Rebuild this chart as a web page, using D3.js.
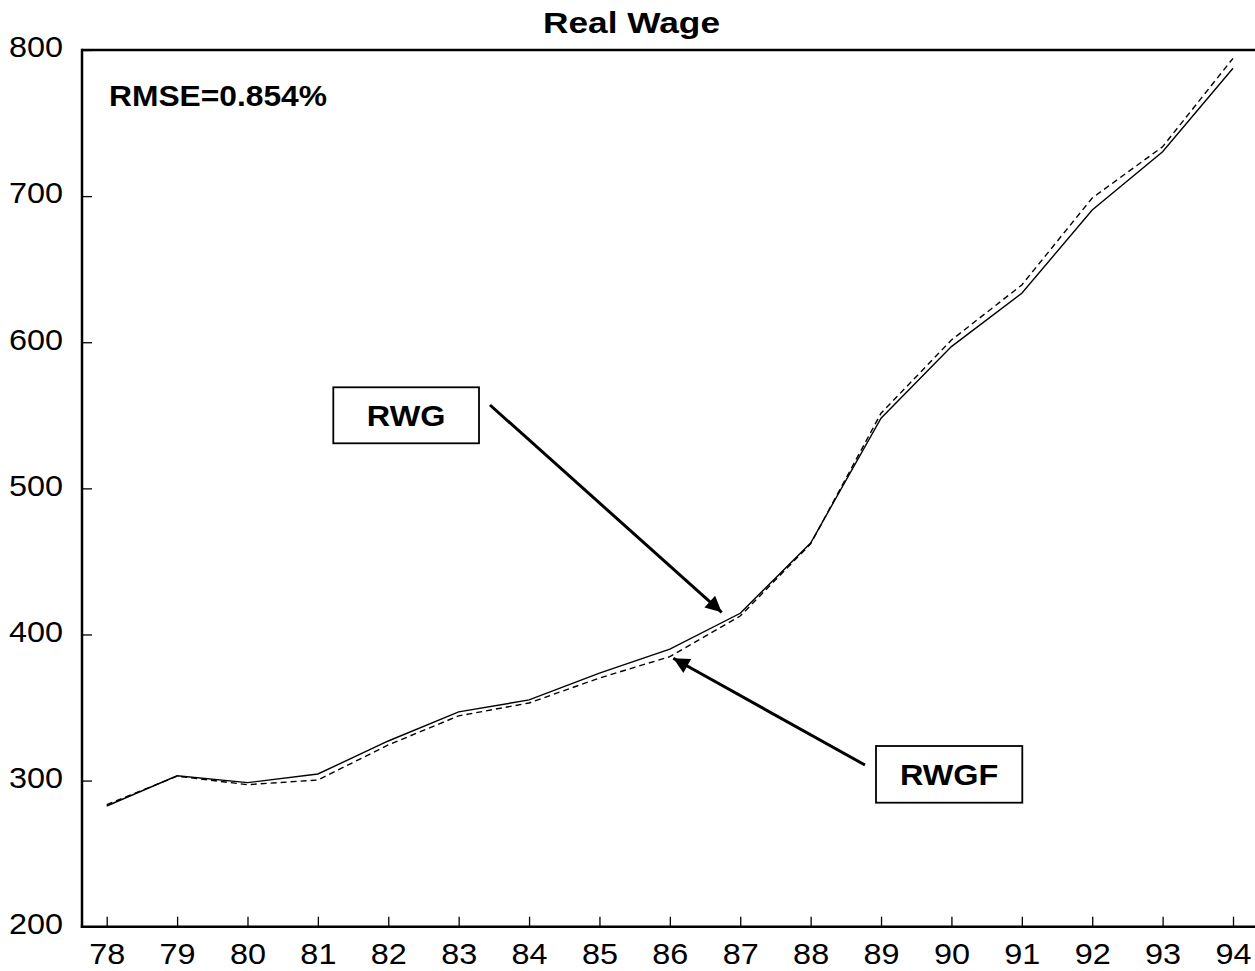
<!DOCTYPE html>
<html>
<head>
<meta charset="utf-8">
<script src="https://cdn.jsdelivr.net/npm/d3@7"></script>
<style>
  html, body { margin: 0; padding: 0; background: #fff; }
  svg { display: block; font-family: "Liberation Sans", Arial, sans-serif; }
</style>
</head>
<body>
<svg id="chart" width="1255" height="971"></svg>
<script>
// ---- data ----
const years = ["78","79","80","81","82","83","84","85","86","87","88","89","90","91","92","93","94"];
const rwg   = [282.6, 303.3, 298.6, 304.5, 327.1, 347.0, 355.2, 373.6, 389.9, 414.5, 462.6, 548.0, 597.0, 633.5, 690.5, 730.4, 787.5];
const rwgf  = [283.6, 303.0, 297.2, 300.4, 324.4, 344.3, 353.1, 370.2, 384.8, 412.6, 462.0, 551.4, 601.5, 639.2, 698.7, 733.8, 794.3];
const yTicks = [200, 300, 400, 500, 600, 700, 800];
const title = "Real Wage";
const rmseLabel = "RMSE=0.854%";
const seriesNames = ["RWG", "RWGF"];

// ---- layout ----
const plotLeft = 82, plotTop = 50, plotBottom = 926.7, plotRight = 1255;
const stretch = 1.08;

const svg = d3.select("#chart");

const x = d3.scalePoint().domain(years).range([106.7, 1233]);
const y = d3.scaleLinear().domain([200, 800]).range([plotBottom, plotTop]);

function widen(sel) {
  sel.each(function () {
    const w = this.getComputedTextLength();
    d3.select(this).attr("textLength", w * stretch).attr("lengthAdjust", "spacingAndGlyphs");
  });
}

// frame lines
svg.append("line").attr("x1", plotLeft).attr("x2", plotRight).attr("y1", plotTop).attr("y2", plotTop)
  .attr("stroke", "#000").attr("stroke-width", 2.5);
svg.append("line").attr("x1", plotLeft).attr("x2", plotLeft).attr("y1", plotTop - 1.2).attr("y2", plotBottom + 1.2)
  .attr("stroke", "#000").attr("stroke-width", 2.5);
svg.append("line").attr("x1", plotLeft - 1.2).attr("x2", plotRight).attr("y1", plotBottom).attr("y2", plotBottom)
  .attr("stroke", "#000").attr("stroke-width", 2.5);

// x axis
const xAxis = svg.append("g").attr("transform", `translate(0,${plotBottom})`)
  .call(d3.axisBottom(x).tickSize(-10).tickSizeOuter(0));
xAxis.select(".domain").remove();
xAxis.selectAll(".tick line").attr("stroke", "#000").attr("stroke-width", 1.3);
xAxis.selectAll(".tick text")
  .attr("y", 37.6).attr("dy", 0)
  .attr("font-size", 30).attr("fill", "#000")
  .attr("font-family", "'Liberation Sans', Arial, sans-serif")
  .call(widen);

// y axis
const yAxis = svg.append("g").attr("transform", `translate(${plotLeft},0)`)
  .call(d3.axisLeft(y).tickValues(yTicks).tickSize(-10).tickSizeOuter(0).tickPadding(19));
yAxis.select(".domain").remove();
yAxis.selectAll(".tick line").attr("stroke", "#000").attr("stroke-width", 1.3);
yAxis.selectAll(".tick text")
  .attr("dy", 6.8)
  .attr("font-size", 30).attr("fill", "#000")
  .attr("font-family", "'Liberation Sans', Arial, sans-serif")
  .call(widen);

// lines
const line = d3.line().x((d, i) => x(years[i])).y(d => y(d));
svg.append("path").datum(rwg).attr("d", line)
  .attr("fill", "none").attr("stroke", "#000").attr("stroke-width", 1.4);
svg.append("path").datum(rwgf).attr("d", line)
  .attr("fill", "none").attr("stroke", "#000").attr("stroke-width", 1.4)
  .attr("stroke-dasharray", "6,4");

// title
svg.append("text").attr("x", 631.5).attr("y", 33.3)
  .attr("text-anchor", "middle").attr("font-weight", "bold").attr("font-size", 29)
  .attr("textLength", 177).attr("lengthAdjust", "spacingAndGlyphs")
  .text(title);

// RMSE label
svg.append("text").attr("x", 109).attr("y", 106)
  .attr("font-weight", "bold").attr("font-size", 30)
  .attr("textLength", 218).attr("lengthAdjust", "spacingAndGlyphs")
  .text(rmseLabel);

// arrow marker
const defs = svg.append("defs");
defs.append("marker").attr("id", "arrow")
  .attr("viewBox", "0 0 10 10").attr("refX", 10).attr("refY", 5)
  .attr("markerUnits", "userSpaceOnUse")
  .attr("markerWidth", 20).attr("markerHeight", 16)
  .attr("orient", "auto")
  .append("path").attr("d", "M0,0 L10,5 L0,10 Z").attr("fill", "#000");

// annotations
const annotations = [
  { name: seriesNames[0], box: [333.3, 387.3, 145.7, 56], from: [490, 405], to: [721.7, 612.3] },
  { name: seriesNames[1], box: [876, 746, 146.3, 56.7], from: [865, 765], to: [673.3, 658.3] }
];
annotations.forEach(a => {
  svg.append("line")
    .attr("x1", a.from[0]).attr("y1", a.from[1]).attr("x2", a.to[0]).attr("y2", a.to[1])
    .attr("stroke", "#000").attr("stroke-width", 3).attr("marker-end", "url(#arrow)");
  svg.append("rect").attr("x", a.box[0]).attr("y", a.box[1]).attr("width", a.box[2]).attr("height", a.box[3])
    .attr("fill", "#fff").attr("stroke", "#000").attr("stroke-width", 1.8);
  svg.append("text")
    .attr("x", a.box[0] + a.box[2] / 2).attr("y", a.box[1] + a.box[3] / 2 + 11)
    .attr("text-anchor", "middle").attr("font-weight", "bold").attr("font-size", 30)
    .text(a.name)
    .call(widen);
});
</script>
</body>
</html>
